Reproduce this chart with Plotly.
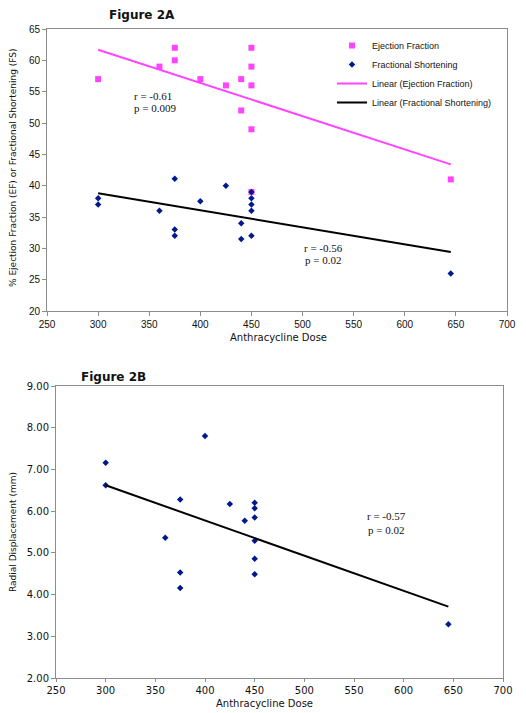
import plotly.graph_objects as go

# page body has an 8px default margin, so the figure is sized to fit inside it
OFF = 8
W, H = 526 - 2 * OFF, 713 - OFF

# ---- Figure 2A data ----
ef_dose = [300, 360, 375, 375, 400, 425, 440, 440, 450, 450, 450, 450, 450, 645]
ef_val = [57, 59, 62, 60, 57, 56, 57, 52, 62, 59, 56, 49, 39, 41]

fs_dose = [300, 300, 360, 375, 375, 375, 400, 425, 440, 440, 450, 450, 450, 450, 450, 645]
fs_val = [38, 37, 36, 41.1, 33, 32, 37.5, 40, 34, 31.5, 39, 38, 37, 36, 32, 26]

trend_dose_a = [300, 645]
ef_trend = [61.7, 43.4]
fs_trend = [38.8, 29.4]

# ---- Figure 2B data ----
rd_dose = [300, 300, 360, 375, 375, 375, 400, 425, 440, 450, 450, 450, 450, 450, 450, 645]
rd_val = [7.16, 6.62, 5.36, 6.28, 4.53, 4.16, 7.80, 6.17, 5.77, 6.20, 6.07, 5.85, 5.29, 4.86, 4.49, 3.29]

trend_dose_b = [300, 645]
rd_trend = [6.62, 3.71]

x_ticks = [250, 300, 350, 400, 450, 500, 550, 600, 650, 700]

PINK = "#FF44FF"
NAVY = "#001A8C"
AX = "#8C8C8C"

fig = go.Figure()

fig.add_trace(go.Scatter(x=ef_dose, y=ef_val, mode="markers", name="Ejection Fraction",
                         marker=dict(symbol="square", size=6, color=PINK),
                         xaxis="x", yaxis="y"))
fig.add_trace(go.Scatter(x=fs_dose, y=fs_val, mode="markers", name="Fractional Shortening",
                         marker=dict(symbol="diamond", size=5, color=NAVY),
                         xaxis="x", yaxis="y"))
fig.add_trace(go.Scatter(x=trend_dose_a, y=ef_trend, mode="lines", name="Linear (Ejection Fraction)",
                         line=dict(color=PINK, width=2), xaxis="x", yaxis="y"))
fig.add_trace(go.Scatter(x=trend_dose_a, y=fs_trend, mode="lines", name="Linear (Fractional Shortening)",
                         line=dict(color="black", width=2), xaxis="x", yaxis="y"))

fig.add_trace(go.Scatter(x=rd_dose, y=rd_val, mode="markers", showlegend=False,
                         marker=dict(symbol="diamond", size=5, color=NAVY),
                         xaxis="x2", yaxis="y2"))
fig.add_trace(go.Scatter(x=trend_dose_b, y=rd_trend, mode="lines", showlegend=False,
                         line=dict(color="black", width=2), xaxis="x2", yaxis="y2"))

def px_x(p):
    return (p - OFF) / W

def px_y(p):
    return 1 - (p - OFF) / H

axis_common = dict(showgrid=False, zeroline=False, showline=True, linecolor=AX, linewidth=1,
                   mirror=True, ticks="outside", tickcolor=AX, fixedrange=True,
                   automargin=False)

fig.update_layout(
    width=W, height=H, autosize=False,
    margin=dict(l=0, r=0, t=0, b=0, pad=0),
    paper_bgcolor="white", plot_bgcolor="white",
    xaxis=dict(domain=[px_x(47), px_x(507)], range=[250, 700], tickvals=x_ticks, ticklen=4,
               tickfont=dict(family="Liberation Sans, Arial", size=10, color="#111"),
               anchor="y", **axis_common),
    yaxis=dict(domain=[px_y(311), px_y(29)], range=[20, 65], dtick=5, ticklen=4,
               tickfont=dict(family="Liberation Sans, Arial", size=10, color="#111"),
               anchor="x", **axis_common),
    xaxis2=dict(domain=[px_x(56), px_x(503)], range=[250, 700], tickvals=x_ticks, ticklen=3,
                tickfont=dict(family="DejaVu Sans, Verdana", size=10, color="#111"),
                anchor="y2", **axis_common),
    yaxis2=dict(domain=[px_y(678), px_y(386)], range=[2, 9], dtick=1, tickformat=".2f", ticklen=4,
                tickfont=dict(family="DejaVu Sans, Verdana", size=10, color="#111"),
                anchor="x2", **axis_common),
    legend=dict(x=px_x(332), y=px_y(31), xanchor="left", yanchor="top",
                font=dict(family="Liberation Sans, Arial", size=9, color="#111"),
                bgcolor="rgba(0,0,0,0)", tracegroupgap=0, itemwidth=30),
    showlegend=True,
)

ann = []
def text(x, y, s, size=10, family="DejaVu Sans, Verdana", bold=False, angle=0, xanchor="center"):
    ann.append(dict(x=px_x(x), y=px_y(y), xref="paper", yref="paper", text=(f"<b>{s}</b>" if bold else s),
                    showarrow=False, xanchor=xanchor, yanchor="middle", textangle=angle,
                    font=dict(family=family, size=size, color="#111")))

text(142, 15, "Figure 2A", size=12, bold=True)
text(113, 377, "Figure 2B", size=12, bold=True)
text(278, 337, "Anthracycline Dose", size=10, family="DejaVu Sans, Verdana")
text(264, 703, "Anthracycline Dose", size=10, family="DejaVu Sans, Verdana")
text(13, 168, "% Ejection Fraction (EF) or Fractional Shortening (FS)", size=9, angle=-90)
text(13, 532, "Radial Displacement (mm)", size=9, angle=-90)

SERIF = "Liberation Serif, Times New Roman"
text(132, 96, "r = -0.61", size=11, family=SERIF, xanchor="left")
text(132, 108, "p = 0.009", size=11, family=SERIF, xanchor="left")
text(302, 248, "r = -0.56", size=11, family=SERIF, xanchor="left")
text(303, 260, "p = 0.02", size=11, family=SERIF, xanchor="left")
text(365, 516, "r = -0.57", size=11, family=SERIF, xanchor="left")
text(366, 530, "p = 0.02", size=11, family=SERIF, xanchor="left")

fig.update_layout(annotations=ann)

fig.write_html("out.html")
